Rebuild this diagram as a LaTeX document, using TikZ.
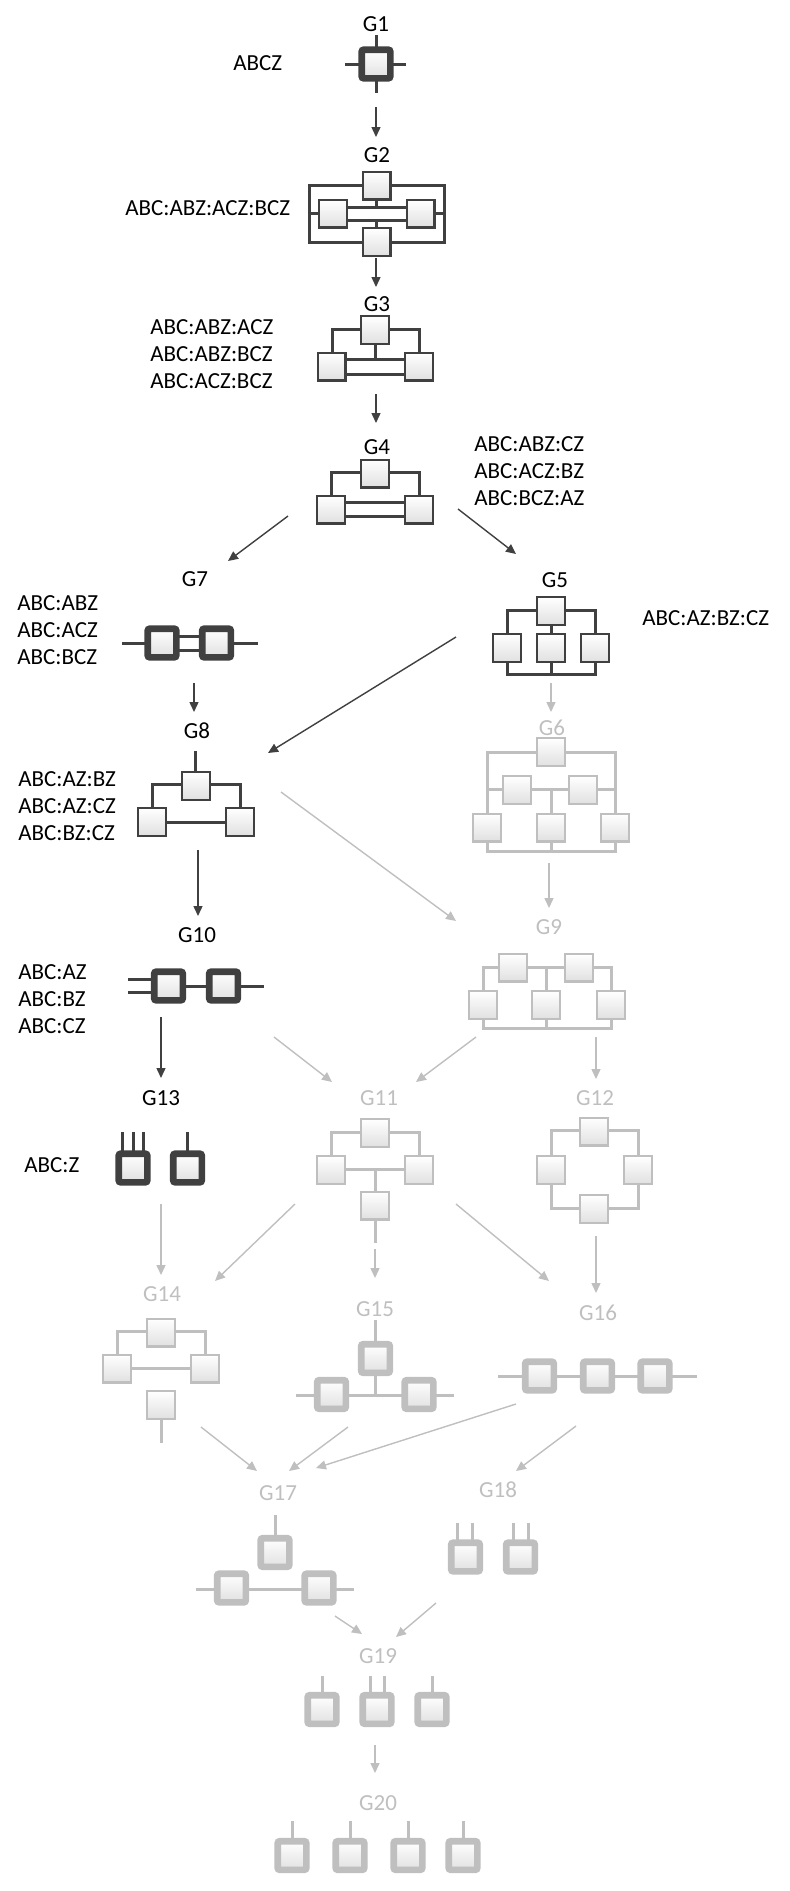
\documentclass[tikz,border=0pt]{standalone}
\usepackage{fontspec}
\setmainfont{Carlito}
\usetikzlibrary{arrows.meta}
\definecolor{dk}{RGB}{64,64,64}
\definecolor{lt}{RGB}{191,191,191}
\tikzset{
  lbl/.style={font=\fontsize{11.5}{13.5}\selectfont, inner sep=0},
  note/.style={lbl, align=left, anchor=west},
  dkline/.style={draw=dk, line width=1.5pt},
  ltline/.style={draw=lt, line width=1.5pt},
  cell/.style={draw, line width=1.2pt, minimum size=13.8pt, inner sep=0, top color=white, bottom color=black!12},
  dkcell/.style={cell, draw=dk},
  ltcell/.style={cell, draw=lt},
  fatcell/.style={cell, line width=3.3pt, minimum size=14.3pt, rounded corners=1pt},
  dkfat/.style={fatcell, draw=dk},
  ltfat/.style={fatcell, draw=lt},
  dkarrow/.style={draw=dk, line width=0.7pt, -{Triangle[length=5pt,width=4.5pt]}},
  ltarrow/.style={draw=lt, line width=0.7pt, -{Triangle[length=5pt,width=4.5pt]}},
}
\begin{document}
\begin{tikzpicture}[x=0.5pt, y=-0.5pt]
  \useasboundingbox (0,0) rectangle (789,1891);

  % graph names
  \node[lbl] (g1) at (376,24) {G1};
  \node[lbl] (g2) at (377,155) {G2};
  \node[lbl] (g3) at (377,304) {G3};
  \node[lbl] (g4) at (377,447) {G4};
  \node[lbl] (g5) at (555,580) {G5};
  \node[lbl, text=lt] (g6) at (552,728) {G6};
  \node[lbl] (g7) at (195,579) {G7};
  \node[lbl] (g8) at (197,731) {G8};
  \node[lbl, text=lt] (g9) at (549,927) {G9};
  \node[lbl] (g10) at (197,935) {G10};
  \node[lbl, text=lt] (g11) at (379,1098) {G11};
  \node[lbl, text=lt] (g12) at (595,1098) {G12};
  \node[lbl] (g13) at (161,1098) {G13};
  \node[lbl, text=lt] (g14) at (162,1294) {G14};
  \node[lbl, text=lt] (g15) at (375,1309) {G15};
  \node[lbl, text=lt] (g16) at (598,1313) {G16};
  \node[lbl, text=lt] (g17) at (278,1493) {G17};
  \node[lbl, text=lt] (g18) at (498,1490) {G18};
  \node[lbl, text=lt] (g19) at (378,1656) {G19};
  \node[lbl, text=lt] (g20) at (378,1803) {G20};

  % model lists
  \node[note] (t1) at (233,63) {ABCZ};
  \node[note] (t2) at (125,208) {ABC:ABZ:ACZ:BCZ};
  \node[note] (t3) at (150,354) {ABC:ABZ:ACZ\\ABC:ABZ:BCZ\\ABC:ACZ:BCZ};
  \node[note] (t4) at (474,471) {ABC:ABZ:CZ\\ABC:ACZ:BZ\\ABC:BCZ:AZ};
  \node[note] (t5) at (642,618) {ABC:AZ:BZ:CZ};
  \node[note] (t7) at (17,630) {ABC:ABZ\\ABC:ACZ\\ABC:BCZ};
  \node[note] (t8) at (18,806) {ABC:AZ:BZ\\ABC:AZ:CZ\\ABC:BZ:CZ};
  \node[note] (t10) at (18,999) {ABC:AZ\\ABC:BZ\\ABC:CZ};
  \node[note] (t13) at (24,1165) {ABC:Z};

  % G1
  \draw[dkline] (376,35) -- (376,93) (345,64) -- (406,64);
  \node[dkfat] (b1) at (376,64) {};

  % G2
  \draw[dkline] (309,185) rectangle (444,242)
    (309,213.5) -- (333,213.5) (420,213.5) -- (444,213.5)
    (333,207) -- (420,207) (333,220) -- (420,220)
    (376,185) -- (376,207) (376,220) -- (376,242);
  \node[dkcell] (b2t) at (376.5,185.5) {};
  \node[dkcell] (b2b) at (376.5,242) {};
  \node[dkcell] (b2l) at (333,213.5) {};
  \node[dkcell] (b2r) at (420.5,213.5) {};

  % G3
  \draw[dkline] (332,366) |- (375,329) -| (419,366)
    (332,359) -- (419,359) (332,374) -- (419,374)
    (375,330) -- (375,359);
  \node[dkcell] (b3t) at (375,330) {};
  \node[dkcell] (b3l) at (331.5,366.5) {};
  \node[dkcell] (b3r) at (419,366.5) {};

  % G4
  \draw[dkline] (331,509) |- (375,472) -| (419,509)
    (331,502) -- (419,502) (331,516) -- (419,516);
  \node[dkcell] (b4t) at (375,473.5) {};
  \node[dkcell] (b4l) at (331,509.5) {};
  \node[dkcell] (b4r) at (419,509.5) {};

  % G5
  \draw[dkline] (507,648) |- (551,610) -| (595,648)
    (551,611) -- (551,674)
    (507,648) |- (551,674) -| (595,648);
  \node[dkcell] (b5t) at (551,611) {};
  \foreach \x [count=\i] in {507,551,595}
    \node[dkcell] (b5-\i) at (\x,648) {};

  % G6
  \draw[ltline] (487,827) |- (551,752) -| (615,827)
    (487,789) -- (615,789) (551,789) -- (551,851)
    (487,827) |- (551,851) -| (615,827);
  \node[ltcell] (b6t) at (551,752) {};
  \node[ltcell] (b6l) at (517,790) {};
  \node[ltcell] (b6r) at (583,790) {};
  \foreach \x [count=\i] in {487,551,615}
    \node[ltcell] (b6-\i) at (\x,827.5) {};

  % G7
  \draw[dkline] (122,643) -- (162,643) (216.5,643) -- (258,643)
    (162,636) -- (216,636) (162,650) -- (216,650);
  \node[dkfat] (b7l) at (162,643) {};
  \node[dkfat] (b7r) at (216.5,643) {};

  % G8
  \draw[dkline] (195,751) -- (195,786)
    (152,822) |- (196,784) -| (240,822)
    (152,822) -- (240,822);
  \node[dkcell] (b8t) at (196,786) {};
  \node[dkcell] (b8l) at (152,822) {};
  \node[dkcell] (b8r) at (240,822) {};

  % G9
  \draw[ltline] (483,1005) |- (546,967) -| (611,1005)
    (546,967) -- (546,1028)
    (483,1005) |- (546,1028) -| (611,1005);
  \node[ltcell] (b9l) at (513,967.5) {};
  \node[ltcell] (b9r) at (579,967.5) {};
  \foreach \x [count=\i] in {483,546,611}
    \node[ltcell] (b9-\i) at (\x,1005) {};

  % G10
  \draw[dkline] (128,979) -- (168,979) (128,992) -- (168,992) (168,986) -- (264,986);
  \node[dkfat] (b10l) at (168.5,986) {};
  \node[dkfat] (b10r) at (223.5,986) {};

  % G11
  \draw[ltline] (331,1170) |- (375,1132) -| (419,1170)
    (331,1169) -- (419,1169) (375,1169) -- (375,1243);
  \node[ltcell] (b11t) at (375,1133) {};
  \node[ltcell] (b11l) at (331,1170) {};
  \node[ltcell] (b11r) at (419,1170) {};
  \node[ltcell] (b11b) at (375,1205.5) {};

  % G12
  \draw[ltline] (551,1170) |- (594,1130) -| (638,1170)
    (551,1170) |- (594,1208) -| (638,1170);
  \node[ltcell] (b12t) at (594,1131.5) {};
  \node[ltcell] (b12l) at (551,1170) {};
  \node[ltcell] (b12r) at (638,1170) {};
  \node[ltcell] (b12b) at (594,1209) {};

  % G13
  \foreach \x in {122,133,143,187.5}
    \draw[dkline] (\x,1132) -- (\x,1168);
  \node[dkfat] (b13l) at (133,1168) {};
  \node[dkfat] (b13r) at (187.5,1168) {};

  % G14
  \draw[ltline] (117,1368) |- (161,1331) -| (205,1368)
    (117,1368) -- (205,1368) (161,1405) -- (161,1443);
  \node[ltcell] (b14t) at (161,1332.5) {};
  \node[ltcell] (b14l) at (117,1368.5) {};
  \node[ltcell] (b14r) at (205,1368.5) {};
  \node[ltcell] (b14b) at (161,1405) {};

  % G15
  \draw[ltline] (375,1320) -- (375,1395) (296,1395) -- (454,1395);
  \node[ltfat] (b15t) at (375.5,1358.5) {};
  \node[ltfat] (b15l) at (331.5,1394.5) {};
  \node[ltfat] (b15r) at (419,1394.5) {};

  % G16
  \draw[ltline] (498,1376) -- (697,1376);
  \foreach \x [count=\i] in {539.5,597.5,655}
    \node[ltfat] (b16-\i) at (\x,1376) {};

  % G17
  \draw[ltline] (275,1515) -- (275,1552) (196,1589) -- (354,1589);
  \node[ltfat] (b17t) at (275,1552.5) {};
  \node[ltfat] (b17l) at (231.5,1588) {};
  \node[ltfat] (b17r) at (319,1588) {};

  % G18
  \foreach \x in {457,472,513,528}
    \draw[ltline] (\x,1523) -- (\x,1557);
  \node[ltfat] (b18l) at (465.5,1557) {};
  \node[ltfat] (b18r) at (520.5,1557) {};

  % G19
  \foreach \x in {322,370,384,432}
    \draw[ltline] (\x,1676) -- (\x,1709);
  \foreach \x [count=\i] in {322,377,432}
    \node[ltfat] (b19-\i) at (\x,1709.5) {};

  % G20
  \foreach \x [count=\i] in {292,350,408,463} {
    \draw[ltline] (\x,1821) -- (\x,1855);
    \node[ltfat] (b20-\i) at (\x,1855.5) {};
  }

  % arrow ends
  \coordinate (s12) at (376,107);    \coordinate (e12) at (376,137);
  \coordinate (s23) at (376,258);    \coordinate (e23) at (376,287);
  \coordinate (s34) at (376,394);    \coordinate (e34) at (376,423);
  \coordinate (s47) at (288,516);    \coordinate (e47) at (228,561);
  \coordinate (s45) at (458,509);    \coordinate (e45) at (516,554);
  \coordinate (s78) at (194,683);    \coordinate (e78) at (194,712);
  \coordinate (s56) at (551,683);    \coordinate (e56) at (551,712);
  \coordinate (s58) at (456,637);    \coordinate (e58) at (268,753);
  \coordinate (s810) at (198,850);   \coordinate (e810) at (198,916);
  \coordinate (s89) at (281,792);    \coordinate (e89) at (456,921);
  \coordinate (s69) at (549,863);    \coordinate (e69) at (549,908);
  \coordinate (s1013) at (161,1017); \coordinate (e1013) at (161,1078);
  \coordinate (s1011) at (274,1037); \coordinate (e1011) at (332,1082);
  \coordinate (s911) at (476,1037);  \coordinate (e911) at (416,1082);
  \coordinate (s912) at (596,1037);  \coordinate (e912) at (596,1079);
  \coordinate (s1314) at (161,1204); \coordinate (e1314) at (161,1275);
  \coordinate (s1114) at (295,1204); \coordinate (e1114) at (215,1281);
  \coordinate (s1115) at (375,1249); \coordinate (e1115) at (375,1278);
  \coordinate (s1116) at (456,1204); \coordinate (e1116) at (549,1281);
  \coordinate (s1216) at (596,1236); \coordinate (e1216) at (596,1293);
  \coordinate (s1417) at (201,1427); \coordinate (e1417) at (257,1471);
  \coordinate (s1517) at (348,1427); \coordinate (e1517) at (289,1471);
  \coordinate (s1617) at (516,1404); \coordinate (e1617) at (316,1468);
  \coordinate (s1618) at (576,1426); \coordinate (e1618) at (516,1471);
  \coordinate (s1719) at (335,1616); \coordinate (e1719) at (362,1634);
  \coordinate (s1819) at (436,1603); \coordinate (e1819) at (396,1637);
  \coordinate (s1920) at (375,1745); \coordinate (e1920) at (375,1773);

  \foreach \a in {12,23,34,47,45,78,58,810,1013}
    \draw[dkarrow] (s\a) -- (e\a);
  \foreach \a in {56,89,69,1011,911,912,1314,1114,1115,1116,1216,1417,1517,1617,1618,1719,1819,1920}
    \draw[ltarrow] (s\a) -- (e\a);
\end{tikzpicture}
\end{document}
